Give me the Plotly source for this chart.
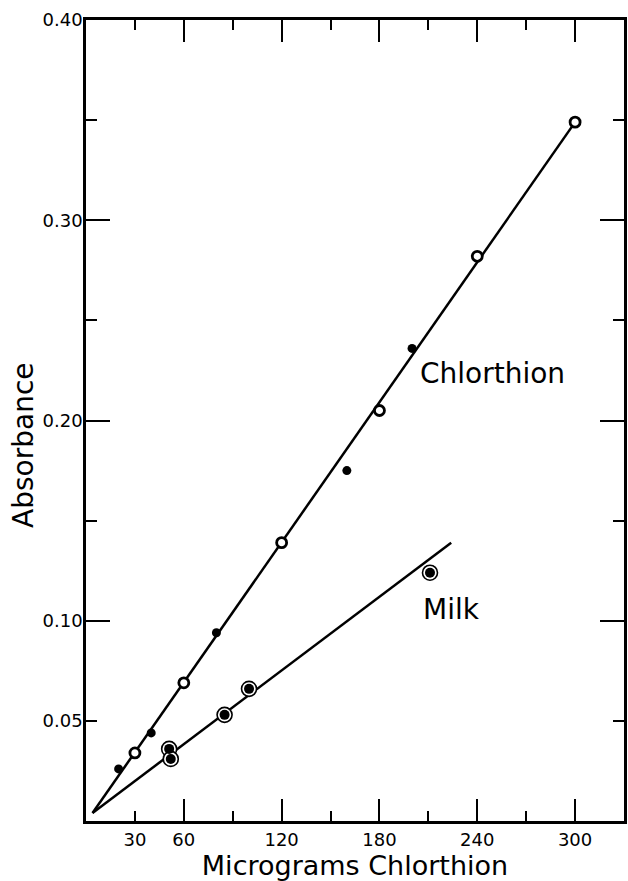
import plotly.graph_objects as go

# Chlorthion standard curve: open circles and filled dots
chl_open_x = [30, 60, 120, 180, 240, 300]
chl_open_y = [0.034, 0.069, 0.139, 0.205, 0.282, 0.349]
chl_fill_x = [20, 40, 80, 160, 200]
chl_fill_y = [0.026, 0.044, 0.094, 0.175, 0.236]
chl_line_x = [4, 300]
chl_line_y = [0.004, 0.349]

# Milk recovery points
milk_x = [51, 52, 85, 100, 211]
milk_y = [0.036, 0.031, 0.053, 0.066, 0.124]
milk_line_x = [4, 224]
milk_line_y = [0.004, 0.139]

x_label_vals = [30, 60, 120, 180, 240, 300]
x_major_ticks = [60, 120, 180, 240, 300]
x_minor_ticks = [30, 90, 150, 210, 270]
y_label_vals = [0.05, 0.10, 0.20, 0.30, 0.40]
y_label_text = ["0.05", "0.10", "0.20", "0.30", "0.40"]
y_major_ticks = [0.10, 0.20, 0.30, 0.40]
y_minor_ticks = [0.05, 0.15, 0.25, 0.35]

FONT = "DejaVu Sans"
BLACK = "#000000"

fig = go.Figure()
fig.add_trace(go.Scatter(x=chl_line_x, y=chl_line_y, mode="lines",
                         line=dict(color=BLACK, width=2.5), showlegend=False))
fig.add_trace(go.Scatter(x=milk_line_x, y=milk_line_y, mode="lines",
                         line=dict(color=BLACK, width=2.5), showlegend=False))
fig.add_trace(go.Scatter(x=chl_fill_x, y=chl_fill_y, mode="markers",
                         marker=dict(symbol="circle", size=9, color=BLACK, line=dict(width=0)),
                         showlegend=False))
fig.add_trace(go.Scatter(x=chl_open_x, y=chl_open_y, mode="markers",
                         marker=dict(symbol="circle", size=10, color="white",
                                     line=dict(color=BLACK, width=2.8)),
                         showlegend=False))
fig.add_trace(go.Scatter(x=milk_x, y=milk_y, mode="markers",
                         marker=dict(symbol="circle", size=15, color="white",
                                     line=dict(color=BLACK, width=1.6)),
                         showlegend=False))
fig.add_trace(go.Scatter(x=milk_x, y=milk_y, mode="markers",
                         marker=dict(symbol="circle", size=10, color=BLACK, line=dict(width=0)),
                         showlegend=False))
# empty trace so the tick-mark axes are drawn
fig.add_trace(go.Scatter(x=[], y=[], xaxis="x2", yaxis="y2", showlegend=False))

common = dict(showgrid=False, zeroline=False, color=BLACK)

fig.update_layout(
    width=628, height=881,
    margin=dict(l=86, r=1, t=20, b=60),
    paper_bgcolor="white", plot_bgcolor="white",
    font=dict(family=FONT, color=BLACK, size=18),
    xaxis=dict(range=[0, 330], tickvals=x_label_vals, ticks="",
               showline=True, linewidth=2.5, linecolor=BLACK, mirror=True,
               tickfont=dict(size=18, family=FONT), ticklabelstandoff=1,
               title=dict(text="Micrograms Chlorthion", font=dict(size=27, family=FONT),
                          standoff=1),
               **common),
    yaxis=dict(range=[0, 0.40], tickvals=y_label_vals, ticktext=y_label_text, ticks="",
               showline=True, linewidth=2.5, linecolor=BLACK, mirror=True,
               tickfont=dict(size=18, family=FONT), ticklabelstandoff=-3,
               **common),
    xaxis2=dict(range=[0, 330], overlaying="x", anchor="y2", side="bottom",
                tickvals=x_major_ticks, ticks="inside", ticklen=22, tickwidth=2,
                tickcolor=BLACK, showticklabels=False, mirror="ticks", showline=False,
                minor=dict(tickvals=x_minor_ticks, ticks="inside", ticklen=10,
                           tickwidth=2, tickcolor=BLACK),
                **common),
    yaxis2=dict(range=[0, 0.40], overlaying="y", anchor="x2", side="left",
                tickvals=y_major_ticks, ticks="inside", ticklen=24, tickwidth=2,
                tickcolor=BLACK, showticklabels=False, mirror="ticks", showline=False,
                minor=dict(tickvals=y_minor_ticks, ticks="inside", ticklen=11,
                           tickwidth=2, tickcolor=BLACK),
                **common),
    annotations=[
        dict(text="Absorbance", xref="paper", yref="paper", x=-0.116, y=0.469,
             textangle=-90, showarrow=False, font=dict(size=28, family=FONT),
             xanchor="center", yanchor="middle"),
        dict(text="Chlorthion", xref="x", yref="y", x=249.5, y=0.2237,
             showarrow=False, font=dict(size=28, family=FONT),
             xanchor="center", yanchor="middle"),
        dict(text="Milk", xref="x", yref="y", x=224, y=0.1054,
             showarrow=False, font=dict(size=28, family=FONT),
             xanchor="center", yanchor="middle"),
    ],
)

fig.write_html("out.html", config={"displayModeBar": False},
               post_script="document.body.style.margin='0';")
